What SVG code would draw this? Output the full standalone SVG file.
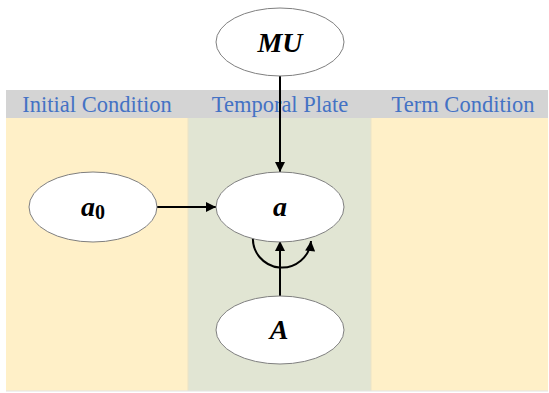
<svg xmlns="http://www.w3.org/2000/svg" width="549" height="393" viewBox="0 0 549 393">
<defs>
<style>
.hdr{font-family:"Liberation Serif","Times New Roman",serif;font-size:22.5px;fill:#4472c4;text-anchor:middle}
.node ellipse{fill:#ffffff;stroke:#7f7f7f;stroke-width:1}
.lbl{font-family:"Liberation Serif","Times New Roman",serif;font-size:28px;font-weight:bold;font-style:italic;fill:#000;text-anchor:middle}
.edge{fill:none;stroke:#000;stroke-width:2;marker-end:url(#arr)}
</style>
<marker id="arr" viewBox="0 0 10 10" refX="10" refY="5" markerWidth="5.5" markerHeight="5" orient="auto" markerUnits="strokeWidth">
<path d="M0,0 L10,5 L0,10 Z" fill="#000"/>
</marker>
</defs>
<rect width="549" height="393" fill="#ffffff"/>
<g id="background">
<rect x="6" y="118" width="182" height="273" fill="#fff0c8"/>
<rect x="188" y="118" width="183" height="273" fill="#e1e5d3"/>
<rect x="371" y="118" width="177" height="273" fill="#fff0c8"/>
<line x1="188" y1="118" x2="188" y2="391" stroke="#ebe3c6" stroke-width="1"/>
<line x1="371" y1="118" x2="371" y2="391" stroke="#ebe3c6" stroke-width="1"/>
<line x1="6" y1="391" x2="548" y2="391" stroke="#e2e2e2" stroke-width="1"/>
<rect x="6" y="90" width="542" height="28" fill="#d4d4d4"/>
<text class="hdr" x="97" y="112">Initial Condition</text>
<text class="hdr" x="280" y="112">Temporal Plate</text>
<text class="hdr" x="463" y="112">Term Condition</text>
</g>
<g id="edges">
<line class="edge" x1="280" y1="76" x2="280" y2="172"/>
<line class="edge" x1="157" y1="207" x2="216" y2="207"/>
<line class="edge" x1="280" y1="296" x2="280" y2="241"/>
<path class="edge" d="M253,236 A29,29 0 0 0 311,241"/>
</g>
<g id="MU" class="node">
<ellipse cx="280" cy="42" rx="64" ry="34"/>
<text class="lbl" x="280" y="52">MU</text>
</g>
<g id="a" class="node">
<ellipse cx="280" cy="207" rx="64" ry="35"/>
<text class="lbl" x="280" y="216">a</text>
</g>
<g id="a0" class="node">
<ellipse cx="93" cy="207" rx="64" ry="35"/>
<text class="lbl" x="93" y="216"><tspan>a</tspan><tspan dy="3" style="font-style:normal;font-size:20px">0</tspan></text>
</g>
<g id="A" class="node">
<ellipse cx="280" cy="330" rx="64" ry="34"/>
<text class="lbl" x="279" y="339">A</text>
</g>
</svg>
